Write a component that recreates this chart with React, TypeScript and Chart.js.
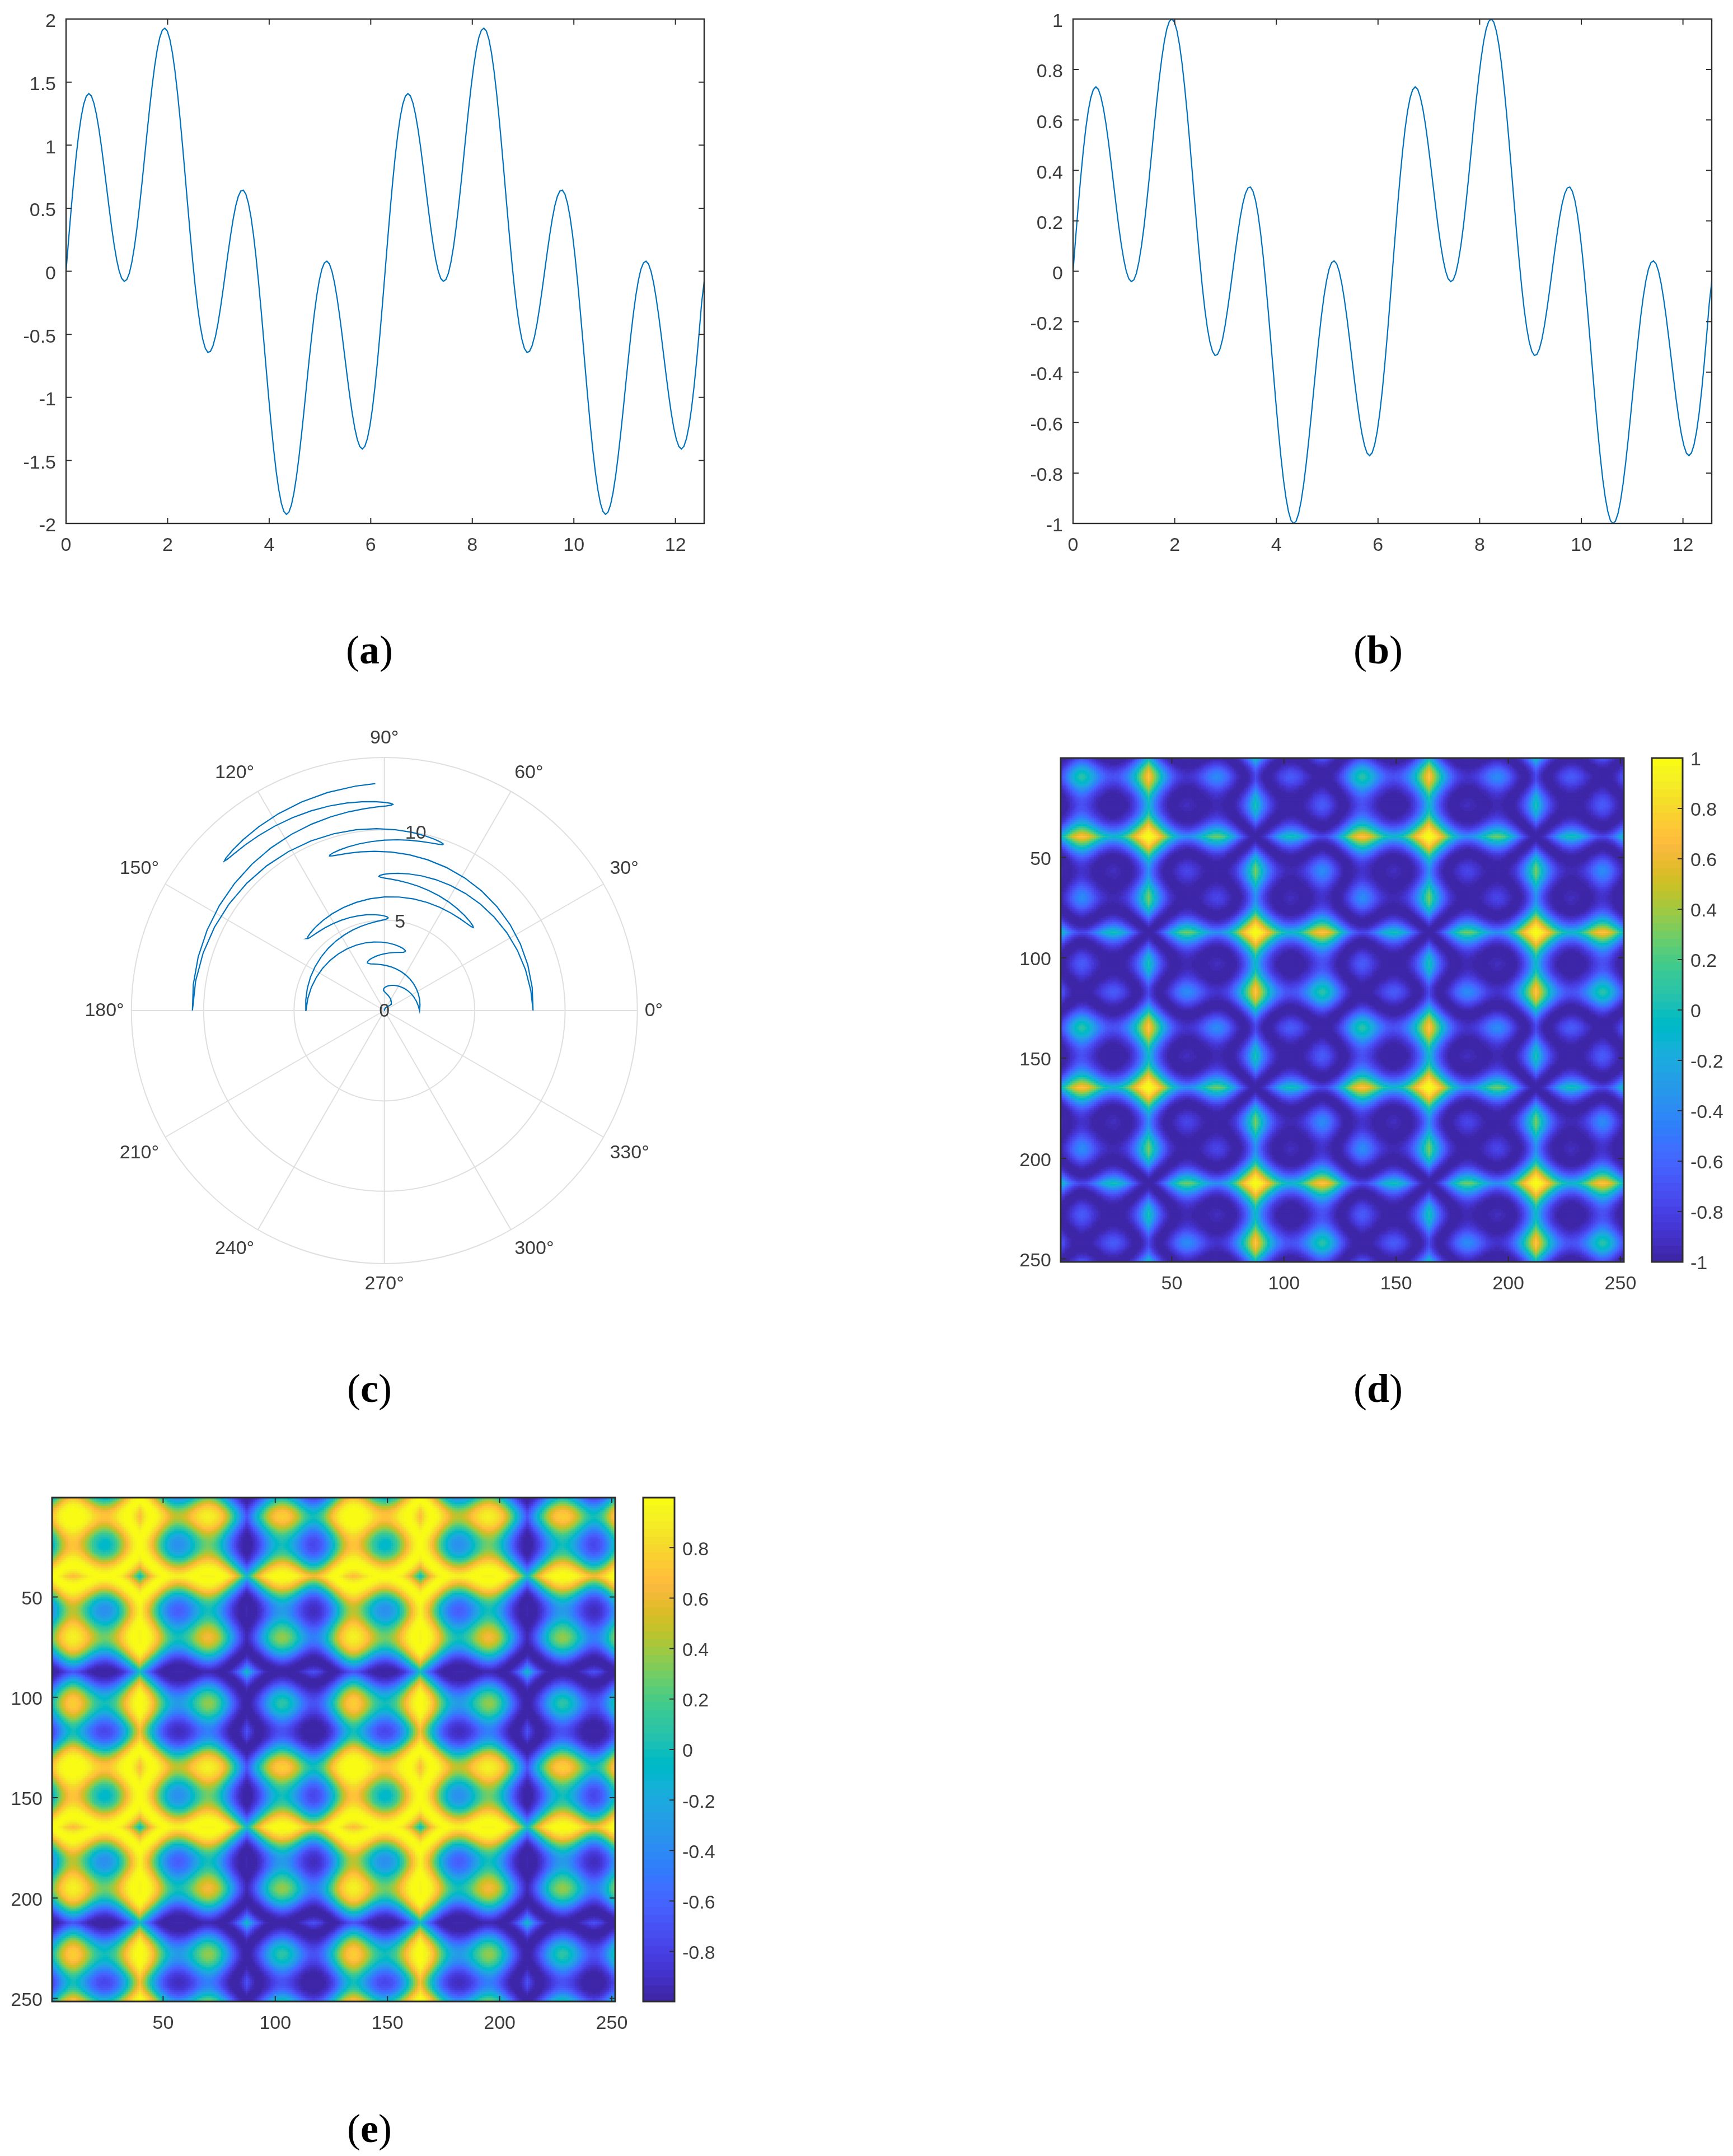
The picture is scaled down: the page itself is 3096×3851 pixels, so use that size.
import React, { useEffect, useRef } from "react";
import { Chart, registerables } from "chart.js";

Chart.register(...registerables);

// ---------- values ----------
// One full turn of each curve (the picture repeats it exactly twice).
const signalTurnA = [0,.248,.488,.712,.914,1.087,1.226,1.327,1.388,1.409,1.39,1.333,1.243,1.125,.985,.829,.666,.503,.348,.208,.09,0,-.058,-.08,-.066,-.015,.073,.193,.342,.514,.702,.9,1.1,1.292,1.47,1.628,1.757,1.853,1.911,1.928,1.904,1.838,1.732,1.59,1.416,1.216,.997,.766,.531,.301,.083,-.117,-.291,-.434,-.541,-.612,-.643,-.636,-.593,-.518,-.414,-.288,-.148,0,.148,.288,.414,.518,.593,.636,.643,.612,.541,.434,.291,.117,-.083,-.301,-.531,-.766,-.997,-1.216,-1.416,-1.59,-1.732,-1.838,-1.904,-1.928,-1.911,-1.853,-1.757,-1.628,-1.47,-1.292,-1.1,-.9,-.702,-.514,-.342,-.193,-.073,.015,.066,.08,.058,0,-.09,-.208,-.348,-.503,-.666,-.829,-.985,-1.125,-1.243,-1.333,-1.39,-1.409,-1.388,-1.327,-1.226,-1.087,-.914,-.712,-.488,-.248,0];
const signalTurnB = [0,.129,.253,.369,.474,.564,.636,.688,.72,.731,.721,.691,.645,.584,.511,.43,.345,.261,.18,.108,.047,0,-.03,-.041,-.034,-.008,.038,.1,.177,.267,.364,.467,.571,.67,.762,.844,.911,.961,.991,1,.988,.953,.898,.825,.734,.631,.517,.397,.275,.156,.043,-.061,-.151,-.225,-.281,-.317,-.334,-.33,-.308,-.269,-.215,-.149,-.077,0,.077,.149,.215,.269,.308,.33,.334,.317,.281,.225,.151,.061,-.043,-.156,-.275,-.397,-.517,-.631,-.734,-.825,-.898,-.953,-.988,-1,-.991,-.961,-.911,-.844,-.762,-.67,-.571,-.467,-.364,-.267,-.177,-.1,-.038,.008,.034,.041,.03,0,-.047,-.108,-.18,-.261,-.345,-.43,-.511,-.584,-.645,-.691,-.721,-.731,-.72,-.688,-.636,-.564,-.474,-.369,-.253,-.129,0];
const finalValueA = -0.08;
const finalValueB = -0.04;
const sampleSpacing = 0.049867;
const xEnd = 12.566;

const lineXTicks = [0, 2, 4, 6, 8, 10, 12];
const lineATicks = [-2, -1.5, -1, -0.5, 0, 0.5, 1, 1.5, 2];
const lineBTicks = [-1, -0.8, -0.6, -0.4, -0.2, 0, 0.2, 0.4, 0.6, 0.8, 1];
const polarRadiusTicks = [0, 5, 10];
const polarRadiusMax = 14;
const polarAngles = [0, 30, 60, 90, 120, 150, 180, 210, 240, 270, 300, 330];
const heatTicks = [50, 100, 150, 200, 250];
const heatIndexEnd = 250;
const barTicksD = [-1, -0.8, -0.6, -0.4, -0.2, 0, 0.2, 0.4, 0.6, 0.8, 1];
const barTicksE = [-0.8, -0.6, -0.4, -0.2, 0, 0.2, 0.4, 0.6, 0.8];
const barRangeD: [number, number] = [-1, 1];
const barRangeE: [number, number] = [-0.998, 0.998];

// parula, 64 levels, as in the colour bars
const parula = [
[.2422,.1504,.6603],[.2504,.165,.7076],[.2578,.1818,.7511],[.2647,.1978,.7952],[.2706,.2147,.8364],[.2751,.2342,.871],[.2783,.2559,.8991],[.2803,.2782,.9221],
[.2813,.3006,.9414],[.281,.3228,.9579],[.2795,.3447,.9717],[.276,.3667,.9829],[.2699,.3892,.9906],[.2602,.4123,.9952],[.244,.4358,.9988],[.2206,.4603,.9973],
[.1963,.4847,.9892],[.1834,.5074,.9798],[.1786,.5289,.9682],[.1764,.5499,.952],[.1687,.5703,.9359],[.154,.5902,.9218],[.146,.6091,.9079],[.138,.6276,.8973],
[.1248,.6459,.8883],[.1113,.6635,.8763],[.0952,.6798,.8598],[.0689,.6948,.8394],[.0297,.7082,.8163],[.0036,.7203,.7917],[.0067,.7312,.766],[.0433,.7411,.7394],
[.0964,.75,.712],[.1408,.7584,.6842],[.1717,.767,.6554],[.1938,.7758,.6251],[.2161,.7843,.5923],[.247,.7918,.5567],[.2906,.7973,.5188],[.3406,.8008,.4789],
[.3909,.8029,.4354],[.4456,.8024,.3909],[.5044,.7993,.348],[.5616,.7942,.3045],[.6174,.7876,.2612],[.672,.7793,.2227],[.7242,.7698,.191],[.7738,.7598,.1646],
[.8203,.7498,.1535],[.8634,.7406,.1596],[.9035,.733,.1774],[.9393,.7288,.21],[.9728,.7298,.2394],[.9956,.7434,.2371],[.9961,.7653,.2199],[.9892,.7902,.2048],
[.9796,.8163,.1896],[.97,.8431,.1776],[.9626,.8705,.1591],[.9589,.8991,.1493],[.9598,.9218,.1507],[.9637,.9447,.1338],[.97,.9652,.11],[.9769,.9839,.0805],
].map(([r, g, b]) => `rgb(${Math.round(r * 255)},${Math.round(g * 255)},${Math.round(b * 255)})`);

// ---------- tables built from the values above ----------
const seriesA = [...signalTurnA, ...signalTurnA.slice(1, -1), finalValueA];
const seriesB = [...signalTurnB, ...signalTurnB.slice(1, -1), finalValueB];
const times = seriesB.map((_, i) => i * sampleSpacing);
const xy = (ys: number[]) => ys.map((y, i) => ({ x: times[i], y }));

// Panel (c) plots seriesB in polar form: angle = acos(value), radius = time.
const polarPoints = seriesB.map((v, i) => ({
  x: times[i] * v,
  y: times[i] * Math.sqrt(Math.max(0, 1 - v * v)),
}));

// Panels (d) and (e) have too many cells to read one at a time. They are the angular
// fields of seriesB shown in (c), so each cell is derived from the values read for that
// curve: cos(a_i + a_j) for (d), sin(a_i + a_j) for (e).
const angles = seriesB.map((v) => Math.acos(Math.max(-1, Math.min(1, v))));
function fieldDatasets(fn: (s: number) => number, [lo, hi]: [number, number], radius: number) {
  const buckets: { x: number; y: number }[][] = parula.map(() => []);
  const n = angles.length;
  for (let r = 0; r < n; r++) {
    const y = 1 + (r * heatIndexEnd) / (n - 1);
    for (let c = 0; c < n; c++) {
      const x = 1 + (c * heatIndexEnd) / (n - 1);
      const v = fn(angles[r] + angles[c]);
      const level = Math.max(0, Math.min(63, Math.floor(((v - lo) / (hi - lo)) * 64)));
      buckets[level].push({ x, y });
    }
  }
  return buckets.map((data, i) => ({
    data,
    parsing: false,
    normalized: true,
    showLine: false,
    pointStyle: "rect",
    pointRadius: radius,
    pointBorderWidth: 0,
    pointBackgroundColor: parula[i],
  }));
}

// ---------- shared styling ----------
const FONT = '"Liberation Sans", Arial, sans-serif';
const FONT_SIZE = 34;
const TEXT = "#3c3c3c";
const AXIS = "#2e2e2e";
const BLUE = "#0072BD";

type Box = { x0: number; y0: number; w: number; h: number; L: number; R: number; T: number; B: number };

const noScalePadding = (s: any) => {
  s.paddingLeft = 0;
  s.paddingRight = 0;
  s.paddingTop = 0;
  s.paddingBottom = 0;
};

function axis(values: number[], min: number, max: number, extra: any = {}, tickExtra: any = {}) {
  return {
    type: "linear",
    min,
    max,
    afterBuildTicks: (s: any) => {
      s.ticks = values.map((value) => ({ value }));
    },
    grid: { display: false, drawTicks: false },
    border: { display: false },
    ticks: {
      autoSkip: false,
      maxRotation: 0,
      minRotation: 0,
      color: TEXT,
      font: { family: FONT, size: FONT_SIZE },
      callback: (v: any) => String(v),
      ...tickExtra,
    },
    ...extra,
  };
}

function framePlugin(width: number, side: "box" | "bar") {
  return {
    id: "frame",
    afterDraw(chart: any) {
      const { ctx, chartArea: a, scales } = chart;
      const len = side === "bar" ? 9 : 10;
      ctx.save();
      ctx.strokeStyle = AXIS;
      ctx.lineWidth = 2;
      ctx.beginPath();
      if (side === "box") {
        for (const t of scales.x.ticks) {
          const p = scales.x.getPixelForValue(t.value);
          ctx.moveTo(p, a.bottom); ctx.lineTo(p, a.bottom - len);
          ctx.moveTo(p, a.top); ctx.lineTo(p, a.top + len);
        }
        for (const t of scales.y.ticks) {
          const p = scales.y.getPixelForValue(t.value);
          ctx.moveTo(a.left, p); ctx.lineTo(a.left + len, p);
          ctx.moveTo(a.right, p); ctx.lineTo(a.right - len, p);
        }
      } else {
        for (const t of scales.y.ticks) {
          const p = scales.y.getPixelForValue(t.value);
          ctx.moveTo(a.right, p); ctx.lineTo(a.right - len, p);
        }
      }
      ctx.stroke();
      ctx.lineWidth = width;
      ctx.strokeRect(a.left, a.top, a.right - a.left, a.bottom - a.top);
      ctx.restore();
    },
  };
}

function common(padding: any) {
  return {
    responsive: false,
    maintainAspectRatio: false,
    animation: false,
    devicePixelRatio: 1,
    events: [],
    layout: { autoPadding: false, padding },
    plugins: { legend: { display: false }, tooltip: { enabled: false }, title: { display: false } },
  };
}

function boxedScales(box: Box, xAxis: any, yAxis: any) {
  xAxis.afterFit = (s: any) => { s.height = box.h - (box.B - box.y0); noScalePadding(s); };
  yAxis.afterFit = (s: any) => { s.width = box.L - box.x0; noScalePadding(s); };
  return { x: xAxis, y: yAxis };
}

function boxedPadding(box: Box) {
  return { left: 0, bottom: 0, top: box.T - box.y0, right: box.x0 + box.w - box.R };
}

function lineConfig(box: Box, values: number[], yTicks: number[], yMin: number, yMax: number) {
  return {
    type: "scatter",
    data: {
      datasets: [{
        data: xy(values),
        showLine: true,
        borderColor: BLUE,
        borderWidth: 2.2,
        pointRadius: 0,
        tension: 0,
      }],
    },
    options: {
      ...common(boxedPadding(box)),
      scales: boxedScales(
        box,
        axis(lineXTicks, 0, xEnd, {}, { padding: 19 }),
        axis(yTicks, yMin, yMax, {}, { padding: 18, labelOffset: 5 }),
      ),
    },
    plugins: [framePlugin(2.4, "box")],
  };
}

function heatConfig(box: Box, fn: (s: number) => number, range: [number, number]) {
  return {
    type: "scatter",
    data: { datasets: fieldDatasets(fn, range, 3.6) },
    options: {
      ...common(boxedPadding(box)),
      scales: boxedScales(
        box,
        axis(heatTicks, 0.5, heatIndexEnd + 1.5, {}, { padding: 19 }),
        axis(heatTicks, 0.5, heatIndexEnd + 1.5, { reverse: true }, { padding: 17, labelOffset: 4 }),
      ),
    },
    plugins: [framePlugin(3, "box")],
  };
}

function barConfig(box: Box, ticks: number[], [lo, hi]: [number, number]) {
  const step = (hi - lo) / parula.length;
  return {
    type: "bar",
    data: {
      labels: [""],
      // Chart.js paints dataset 0 last, so each band runs from the bottom up to its own top edge.
      datasets: parula.map((color, i) => ({
        data: [[lo, lo + (i + 1) * step]],
        backgroundColor: color,
        borderWidth: 0,
        grouped: false,
        barPercentage: 1,
        categoryPercentage: 1,
      })),
    },
    options: {
      ...common({ left: box.L - box.x0, top: box.T - box.y0, bottom: box.y0 + box.h - box.B, right: 0 }),
      scales: {
        x: { display: false },
        y: axis(ticks, lo, hi, {
          position: "right",
          afterFit: (s: any) => { s.width = box.x0 + box.w - box.R; noScalePadding(s); },
        }, { padding: 14, labelOffset: 4 }),
      },
    },
    plugins: [framePlugin(3, "bar")],
  };
}

function polarConfig(box: Box) {
  const deg = Math.PI / 180;
  const grid = {
    id: "polarGrid",
    beforeDatasetsDraw(chart: any) {
      const { ctx, scales: { x, y } } = chart;
      const cx = x.getPixelForValue(0);
      const cy = y.getPixelForValue(0);
      const px = (r: number) => x.getPixelForValue(r) - cx;
      ctx.save();
      ctx.strokeStyle = "#dfdfdf";
      ctx.lineWidth = 2;
      for (const r of [...polarRadiusTicks.slice(1), polarRadiusMax]) {
        ctx.beginPath();
        ctx.arc(cx, cy, px(r), 0, Math.PI * 2);
        ctx.stroke();
      }
      for (const a of polarAngles) {
        ctx.beginPath();
        ctx.moveTo(cx, cy);
        ctx.lineTo(
          x.getPixelForValue(polarRadiusMax * Math.cos(a * deg)),
          y.getPixelForValue(polarRadiusMax * Math.sin(a * deg)),
        );
        ctx.stroke();
      }
      ctx.restore();
    },
    afterDatasetsDraw(chart: any) {
      const { ctx, scales: { x, y } } = chart;
      const cx = x.getPixelForValue(0);
      const cy = y.getPixelForValue(0);
      const R = x.getPixelForValue(polarRadiusMax) - cx;
      ctx.save();
      ctx.font = `${FONT_SIZE}px ${FONT}`;
      ctx.fillStyle = TEXT;
      ctx.textAlign = "center";
      ctx.textBaseline = "middle";
      for (const a of polarAngles) {
        const label = `${a}°`;
        const c = Math.cos(a * deg);
        const s = Math.sin(a * deg);
        const w = ctx.measureText(label).width;
        const sx = Math.abs(c) < 1e-6 ? 0 : Math.sign(c);
        const sy = Math.abs(s) < 1e-6 ? 0 : Math.sign(s);
        ctx.fillText(label, cx + c * (R + 13) + (sx * w) / 2, cy - s * (R + 15) - sy * 20.5 + 1);
      }
      for (const r of polarRadiusTicks) {
        ctx.fillText(
          String(r),
          x.getPixelForValue(r * Math.cos(80 * deg)),
          y.getPixelForValue(r * Math.sin(80 * deg)) + 2,
        );
      }
      ctx.restore();
    },
  };
  return {
    type: "scatter",
    data: {
      datasets: [{
        data: polarPoints,
        showLine: true,
        borderColor: BLUE,
        borderWidth: 2.2,
        pointRadius: 0,
        tension: 0,
      }],
    },
    options: {
      ...common({
        left: box.L - box.x0,
        top: box.T - box.y0,
        right: box.x0 + box.w - box.R,
        bottom: box.y0 + box.h - box.B,
      }),
      scales: {
        x: { type: "linear", display: false, min: -polarRadiusMax, max: polarRadiusMax },
        y: { type: "linear", display: false, min: -polarRadiusMax, max: polarRadiusMax },
      },
    },
    plugins: [grid],
  };
}

// ---------- layout ----------
const boxA: Box = { x0: 0, y0: 0, w: 1300, h: 1010, L: 118, R: 1258, T: 34, B: 935 };
const boxB: Box = { x0: 1800, y0: 0, w: 1296, h: 1010, L: 1917, R: 3058, T: 34, B: 935 };
const boxC: Box = { x0: 100, y0: 1270, w: 1160, h: 1080, L: 234.7, R: 1138.7, T: 1353, B: 2257 };
const boxD: Box = { x0: 1780, y0: 1320, w: 1150, h: 1020, L: 1895, R: 2901, T: 1354, B: 2254 };
const boxDBar: Box = { x0: 2930, y0: 1320, w: 166, h: 1020, L: 2951, R: 3006, T: 1354, B: 2254 };
const boxE: Box = { x0: 0, y0: 2640, w: 1125, h: 1020, L: 93, R: 1099, T: 2675, B: 3575 };
const boxEBar: Box = { x0: 1125, y0: 2640, w: 166, h: 1020, L: 1149, R: 1205, T: 2675, B: 3575 };

const panels: { box: Box; make: () => any }[] = [
  { box: boxA, make: () => lineConfig(boxA, seriesA, lineATicks, -2, 2) },
  { box: boxB, make: () => lineConfig(boxB, seriesB, lineBTicks, -1, 1) },
  { box: boxC, make: () => polarConfig(boxC) },
  { box: boxD, make: () => heatConfig(boxD, Math.cos, barRangeD) },
  { box: boxDBar, make: () => barConfig(boxDBar, barTicksD, barRangeD) },
  { box: boxE, make: () => heatConfig(boxE, Math.sin, barRangeE) },
  { box: boxEBar, make: () => barConfig(boxEBar, barTicksE, barRangeE) },
];

const captions = [
  { letter: "a", cx: 660, cy: 1161 },
  { letter: "b", cx: 2462, cy: 1161 },
  { letter: "c", cx: 660, cy: 2480 },
  { letter: "d", cx: 2462, cy: 2480 },
  { letter: "e", cx: 660, cy: 3802 },
];

function Panel({ box, make }: { box: Box; make: () => any }) {
  const ref = useRef<HTMLCanvasElement | null>(null);
  useEffect(() => {
    const chart = new Chart(ref.current as HTMLCanvasElement, make());
    return () => chart.destroy();
  }, []);
  return (
    <canvas
      ref={ref}
      width={box.w}
      height={box.h}
      style={{ position: "absolute", left: box.x0, top: box.y0, width: box.w, height: box.h }}
    />
  );
}

export default function App() {
  useEffect(() => {
    document.body.style.margin = "0";
  }, []);
  return (
    <div style={{ position: "absolute", left: 0, top: 0, width: 3096, height: 3851, background: "#fff", overflow: "hidden" }}>
      {panels.map((p, i) => (
        <Panel key={i} box={p.box} make={p.make} />
      ))}
      {captions.map((c) => (
        <div
          key={c.letter}
          style={{
            position: "absolute",
            left: c.cx - 100,
            top: c.cy - 50,
            width: 200,
            height: 100,
            lineHeight: "100px",
            textAlign: "center",
            fontFamily: '"Liberation Serif", serif',
            fontSize: 72,
            color: "#000",
          }}
        >
          (<b>{c.letter}</b>)
        </div>
      ))}
    </div>
  );
}
